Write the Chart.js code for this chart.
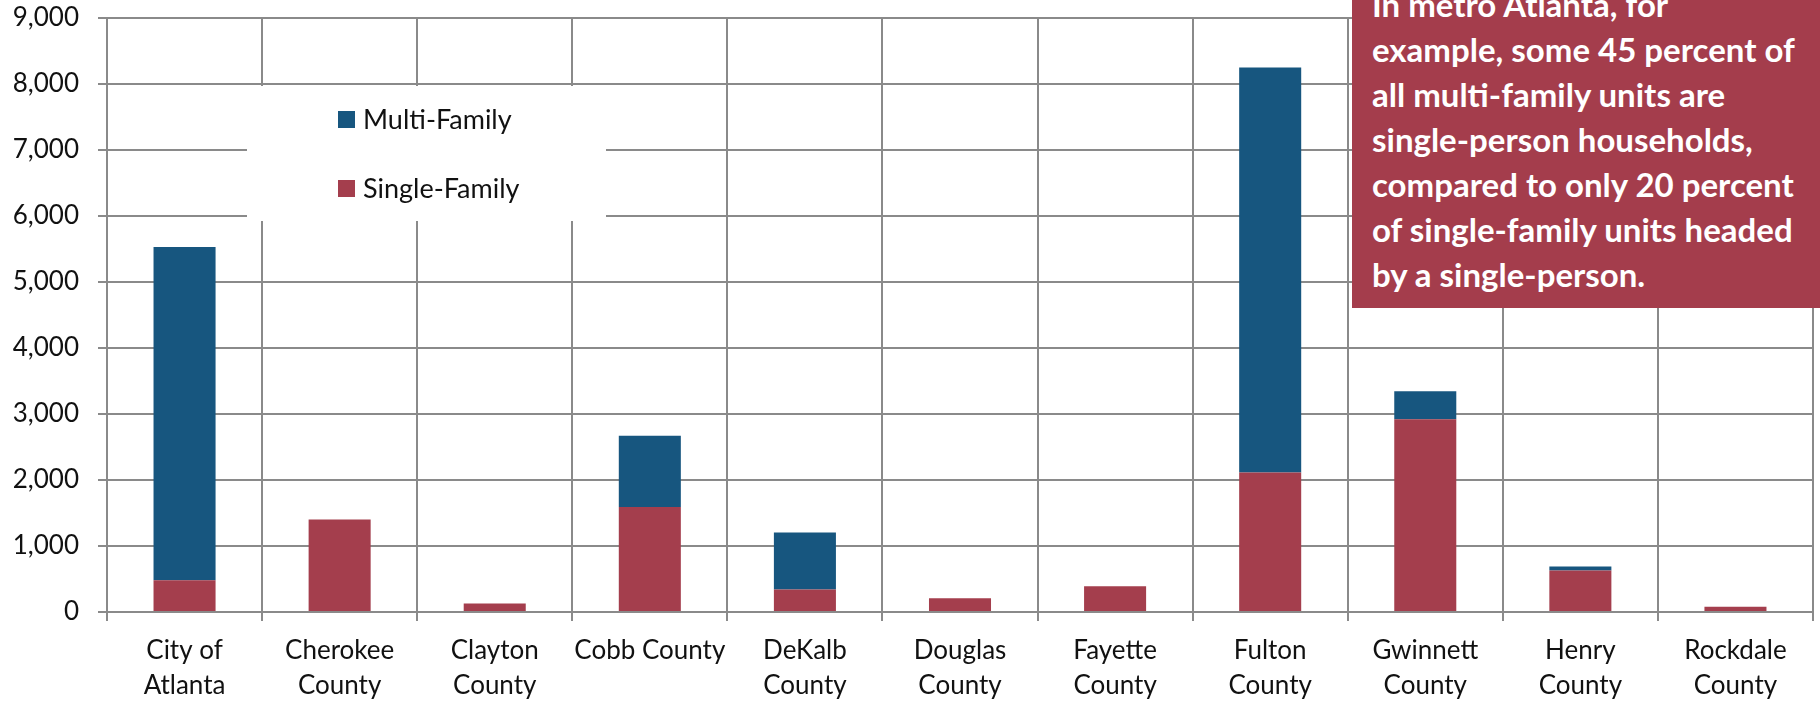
<!DOCTYPE html>
<html>
<head>
<meta charset="utf-8">
<script src="https://cdn.jsdelivr.net/npm/chart.js@4"></script>
<style>
  html, body { margin: 0; padding: 0; background: #fff; }
  #wrap { position: relative; width: 1820px; height: 701px; overflow: hidden; }
  #chart { position: absolute; left: 0; top: 0; }
  #note {
    position: absolute; left: 1352px; top: 0; width: 468px; height: 308px;
    background: #A43D4C; color: #fff; overflow: hidden;
    font-family: Lato, "Open Sans", sans-serif; font-weight: 700;
    font-size: 33px; line-height: 45px;
  }
  #note .txt { position: absolute; left: 20px; top: -18px; white-space: nowrap; }
</style>
</head>
<body>
<div id="wrap">
  <canvas id="chart" width="1820" height="701"></canvas>
  <div id="note"><div class="txt">In metro Atlanta, for<br>example, some 45 percent of<br>all multi-family units are<br>single-person households,<br>compared to only 20 percent<br>of single-family units headed<br>by a single-person.</div></div>
</div>
<script>
// Single-person households by housing type, metro Atlanta jurisdictions
const categories = [
  ['City of', 'Atlanta'], ['Cherokee', 'County'], ['Clayton', 'County'], 'Cobb County',
  ['DeKalb', 'County'], ['Douglas', 'County'], ['Fayette', 'County'], ['Fulton', 'County'],
  ['Gwinnett', 'County'], ['Henry', 'County'], ['Rockdale', 'County']
];
const singleFamily = [480, 1400, 130, 1590, 340, 210, 390, 2115, 2920, 630, 80];
const multiFamily  = [5050, 0, 0, 1080, 865, 0, 0, 6135, 425, 60, 0];
const yTicks = [0, 1000, 2000, 3000, 4000, 5000, 6000, 7000, 8000, 9000];

const BLUE = '#17567F';
const RED = '#A43E4D';
const GRID = '#8a8a8a';
const FONT = 'Lato, "Open Sans", sans-serif';

// Legend drawn inside the plot on a white panel, Multi-Family listed first
const panelLegend = {
  id: 'panelLegend',
  afterDraw(chart) {
    const ctx = chart.ctx;
    ctx.save();
    ctx.fillStyle = '#ffffff';
    ctx.fillRect(247, 86, 359, 135);
    const items = chart.data.datasets.slice().reverse();
    items.forEach((ds, i) => {
      const y = 111 + i * 69;
      ctx.fillStyle = ds.backgroundColor;
      ctx.fillRect(338, y, 17, 17);
      ctx.fillStyle = '#111';
      ctx.font = '27px ' + FONT;
      ctx.textBaseline = 'middle';
      ctx.textAlign = 'left';
      ctx.fillText(ds.label, 363, y + 9);
    });
    ctx.restore();
  }
};

new Chart(document.getElementById('chart'), {
  type: 'bar',
  data: {
    labels: categories,
    datasets: [
      { label: 'Single-Family', data: singleFamily, backgroundColor: RED },
      { label: 'Multi-Family', data: multiFamily, backgroundColor: BLUE }
    ]
  },
  options: {
    responsive: false,
    animation: false,
    devicePixelRatio: 1,
    layout: { padding: { top: 18, right: 7, left: 0, bottom: 0 } },
    datasets: { bar: { categoryPercentage: 1, barPercentage: 0.4 } },
    plugins: { legend: { display: false }, tooltip: { enabled: false } },
    scales: {
      x: {
        stacked: true,
        grid: { offset: true, color: GRID, lineWidth: 2, tickLength: 9 },
        border: { color: GRID, width: 2 },
        ticks: { color: '#111', maxRotation: 0, autoSkip: false, padding: 12,
                 font: { family: FONT, size: 26, lineHeight: 1.35 } },
        afterFit(scale) { scale.height = 89; }
      },
      y: {
        stacked: true,
        min: 0, max: 9000,
        afterBuildTicks(scale) { scale.ticks = yTicks.map(v => ({ value: v })); },
        grid: { color: GRID, lineWidth: 2, tickLength: 9 },
        border: { color: GRID, width: 2 },
        ticks: { color: '#111', padding: 19,
                 font: { family: FONT, size: 26 },
                 callback: v => v.toLocaleString('en-US') },
        afterFit(scale) {
          scale.width = 107;
          scale.paddingTop = 0;
          scale.paddingBottom = 0;
        }
      }
    }
  },
  plugins: [panelLegend]
});
</script>
</body>
</html>
